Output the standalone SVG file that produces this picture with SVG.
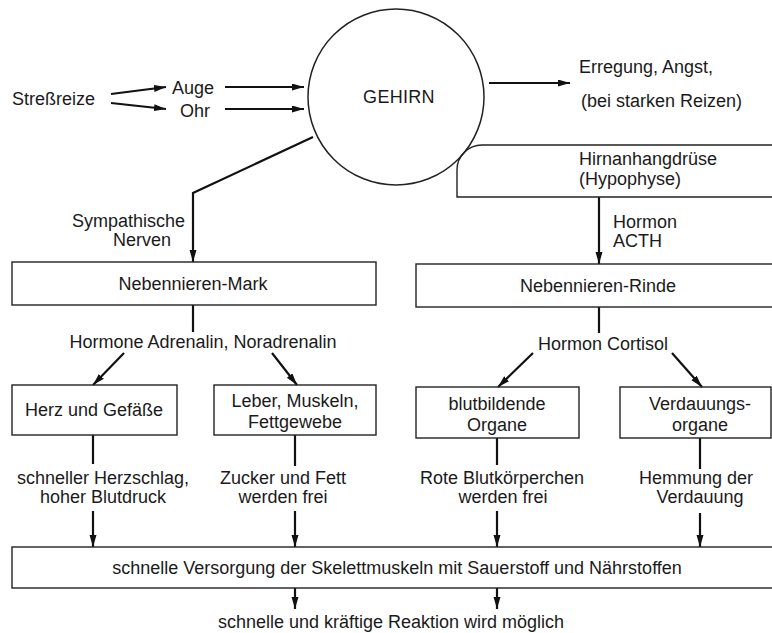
<svg xmlns="http://www.w3.org/2000/svg" width="772" height="633" viewBox="0 0 772 633">
<style>
text{font-family:"Liberation Sans",Arial,sans-serif;font-size:18px;fill:#1a1a1a}
.c{text-anchor:middle}
.box{fill:none;stroke:#222;stroke-width:1.4}
.ln{fill:none;stroke:#111;stroke-width:2.2}
</style>
<defs>
<marker id="ah" markerUnits="userSpaceOnUse" markerWidth="13" markerHeight="8" refX="12" refY="3.5" orient="auto">
<path d="M0,0 L12,3.5 L0,7 Z" fill="#111"/>
</marker>
</defs>
<rect width="772" height="633" fill="#fff"/>

<g id="connectors">
<line class="ln" x1="111" y1="94" x2="166" y2="87" marker-end="url(#ah)"/>
<line class="ln" x1="111" y1="103" x2="166" y2="109" marker-end="url(#ah)"/>
<line class="ln" x1="225" y1="87" x2="304" y2="87" marker-end="url(#ah)"/>
<line class="ln" x1="225" y1="109" x2="304" y2="109" marker-end="url(#ah)"/>
<line class="ln" x1="489" y1="83" x2="570" y2="83" marker-end="url(#ah)"/>
<polyline class="ln" points="313,137 193,193 193,262" marker-end="url(#ah)"/>
<line class="ln" x1="599" y1="197" x2="599" y2="264" marker-end="url(#ah)"/>
<line class="ln" x1="193" y1="305" x2="193" y2="332"/>
<line class="ln" x1="599" y1="307" x2="599" y2="333"/>
<line class="ln" x1="124" y1="353" x2="93" y2="385" marker-end="url(#ah)"/>
<line class="ln" x1="272" y1="353" x2="297" y2="385" marker-end="url(#ah)"/>
<line class="ln" x1="533" y1="353" x2="498" y2="387" marker-end="url(#ah)"/>
<line class="ln" x1="672" y1="353" x2="702" y2="387" marker-end="url(#ah)"/>
<line class="ln" x1="93" y1="435" x2="93" y2="464"/>
<line class="ln" x1="295" y1="435" x2="295" y2="466"/>
<line class="ln" x1="497" y1="438" x2="497" y2="465"/>
<line class="ln" x1="700" y1="438" x2="700" y2="469"/>
<line class="ln" x1="93" y1="511" x2="93" y2="547" marker-end="url(#ah)"/>
<line class="ln" x1="295" y1="511" x2="295" y2="547" marker-end="url(#ah)"/>
<line class="ln" x1="497" y1="511" x2="497" y2="547" marker-end="url(#ah)"/>
<line class="ln" x1="700" y1="513" x2="700" y2="547" marker-end="url(#ah)"/>
<line class="ln" x1="295" y1="588" x2="295" y2="609" marker-end="url(#ah)"/>
<line class="ln" x1="497" y1="588" x2="497" y2="609" marker-end="url(#ah)"/>
</g>

<g id="stressreize"><text x="12" y="105">Streßreize</text></g>
<g id="auge"><text x="172" y="94">Auge</text></g>
<g id="ohr"><text x="180" y="117">Ohr</text></g>
<g id="gehirn">
<circle cx="396" cy="97" r="88" fill="none" stroke="#222" stroke-width="1.5"/>
<text class="c" x="399" y="103" letter-spacing="0.3">GEHIRN</text>
</g>
<g id="erregung">
<text x="579" y="73">Erregung, Angst,</text>
<text x="581" y="107">(bei starken Reizen)</text>
</g>
<g id="hypophyse">
<path class="box" d="M780,145 H482 A25,25 0 0 0 457,170 V197 H780"/>
<text x="579" y="165">Hirnanhangdrüse</text>
<text x="579" y="185">(Hypophyse)</text>
</g>
<g id="sympathische">
<text x="72" y="227">Sympathische</text>
<text x="113" y="246">Nerven</text>
</g>
<g id="acth">
<text x="613" y="228">Hormon</text>
<text x="613" y="247">ACTH</text>
</g>
<g id="mark">
<rect class="box" x="12" y="262" width="364" height="43"/>
<text class="c" x="193" y="290">Nebennieren-Mark</text>
</g>
<g id="rinde">
<rect class="box" x="416" y="264" width="370" height="43"/>
<text class="c" x="598" y="292">Nebennieren-Rinde</text>
</g>
<g id="adrenalin"><text class="c" x="203" y="348">Hormone Adrenalin, Noradrenalin</text></g>
<g id="cortisol"><text class="c" x="603" y="350">Hormon Cortisol</text></g>
<g id="herz">
<rect class="box" x="12" y="385" width="165" height="50"/>
<text class="c" x="94" y="416">Herz und Gefäße</text>
</g>
<g id="leber">
<rect class="box" x="214" y="385" width="162" height="50"/>
<text class="c" x="295" y="407">Leber, Muskeln,</text>
<text class="c" x="295" y="428">Fettgewebe</text>
</g>
<g id="blut">
<rect class="box" x="416" y="387" width="163" height="51"/>
<text class="c" x="497" y="410">blutbildende</text>
<text class="c" x="497" y="431">Organe</text>
</g>
<g id="verdauung">
<rect class="box" x="620" y="387" width="151" height="51"/>
<text class="c" x="700" y="410">Verdauungs-</text>
<text class="c" x="700" y="431">organe</text>
</g>
<g id="herzschlag">
<text class="c" x="103" y="484">schneller Herzschlag,</text>
<text class="c" x="103" y="503">hoher Blutdruck</text>
</g>
<g id="zucker">
<text class="c" x="283" y="484">Zucker und Fett</text>
<text class="c" x="283" y="503">werden frei</text>
</g>
<g id="rote">
<text class="c" x="502" y="484">Rote Blutkörperchen</text>
<text class="c" x="503" y="503">werden frei</text>
</g>
<g id="hemmung">
<text class="c" x="696" y="484">Hemmung der</text>
<text class="c" x="700" y="503">Verdauung</text>
</g>
<g id="versorgung">
<rect class="box" x="12" y="547" width="774" height="41"/>
<text class="c" x="397" y="574">schnelle Versorgung der Skelettmuskeln mit Sauerstoff und Nährstoffen</text>
</g>
<g id="reaktion"><text class="c" x="391" y="628">schnelle und kräftige Reaktion wird möglich</text></g>
</svg>
